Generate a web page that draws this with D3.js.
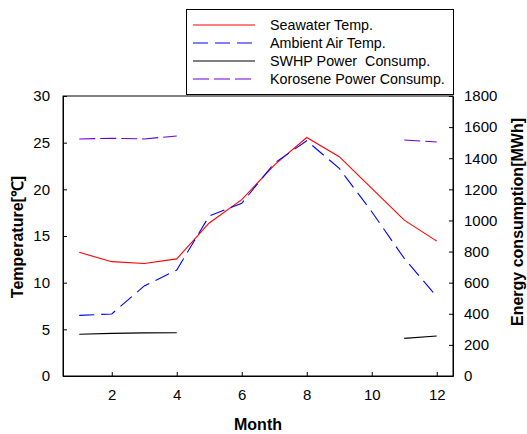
<!DOCTYPE html>
<html>
<head>
<meta charset="utf-8">
<script src="https://cdn.jsdelivr.net/npm/d3@7"></script>
<style>
  body { margin: 0; background: #fff; }
  text { font-family: "Liberation Sans", Arial, sans-serif; }
</style>
</head>
<body>
<svg id="chart" width="527" height="434"></svg>
<script>
var months = [1, 2, 3, 4, 5, 6, 7, 8, 9, 10, 11, 12];
var seawater = [13.25, 12.25, 12.05, 12.55, 16.4, 18.9, 22.6, 25.55, 23.5, 20.1, 16.7, 14.45];
var ambient = [6.5, 6.65, 9.65, 11.35, 17.15, 18.5, 22.8, 25.2, 22.25, 17.6, 12.6, 8.5];
var swhp = [268, 274, 277, 278, null, null, null, null, null, null, 242, 257];
var korosene = [1524, 1528, 1524, 1543, null, null, null, null, null, null, 1517, 1504];
var xTicks = [2, 4, 6, 8, 10, 12];
var tempTicks = [0, 5, 10, 15, 20, 25, 30];
var energyTicks = [0, 200, 400, 600, 800, 1000, 1200, 1400, 1600, 1800];

var chart = (function(){
    var _left = 63, _right = 453, _top = 96, _bottom = 376;
    var svg = d3.select("#chart");

    var x = d3.scaleLinear().domain([0.5, 12.5]).range([_left, _right]);
    var yT = d3.scaleLinear().domain([0, 30]).range([_bottom, _top]);
    var yE = d3.scaleLinear().domain([0, 1800]).range([_bottom, _top]);

    function _drawAxes(){
        svg.append("rect")
            .attr("x", _left).attr("y", _top)
            .attr("width", _right - _left).attr("height", _bottom - _top)
            .attr("fill", "none").attr("stroke", "#000").attr("stroke-width", 1);

        var ax = svg.append("g").attr("transform", "translate(0," + _bottom + ")")
            .call(d3.axisBottom(x).tickValues(xTicks).tickFormat(d3.format("d"))
                .tickSizeInner(-4).tickSizeOuter(0).tickPadding(13));
        var al = svg.append("g").attr("transform", "translate(" + _left + ",0)")
            .call(d3.axisLeft(yT).tickValues(tempTicks).tickFormat(d3.format("d"))
                .tickSizeInner(-4).tickSizeOuter(0).tickPadding(13));
        var ar = svg.append("g").attr("transform", "translate(" + _right + ",0)")
            .call(d3.axisRight(yE).tickValues(energyTicks).tickFormat(d3.format("d"))
                .tickSizeInner(-4).tickSizeOuter(0).tickPadding(11));

        [ax, al, ar].forEach(function(g){
            g.select(".domain").attr("stroke", "#000");
            g.selectAll(".tick line").attr("stroke", "#000");
            g.selectAll(".tick text").attr("font-size", 15).attr("fill", "#000")
                .style("font-family", "'Liberation Sans', Arial, sans-serif");
        });

        svg.append("text")
            .attr("x", (_left + _right) / 2).attr("y", 430)
            .attr("text-anchor", "middle").attr("font-size", 16).attr("font-weight", "bold")
            .text("Month");
        svg.append("text")
            .attr("transform", "translate(23,237) rotate(-90)")
            .attr("text-anchor", "middle").attr("font-size", 16).attr("font-weight", "bold")
            .text("Temperature[℃]");
        svg.append("text")
            .attr("transform", "translate(523,222) rotate(-90)")
            .attr("text-anchor", "middle").attr("font-size", 16).attr("font-weight", "bold")
            .text("Energy consumption[MWh]");
    }

    function _drawLines(){
        var lineT = d3.line()
            .defined(function(d){ return d[1] !== null; })
            .x(function(d){ return x(d[0]); })
            .y(function(d){ return yT(d[1]); });
        var lineE = d3.line()
            .defined(function(d){ return d[1] !== null; })
            .x(function(d){ return x(d[0]); })
            .y(function(d){ return yE(d[1]); });

        var series = [
            {data: seawater, line: lineT, color: "#ff0000", dash: null},
            {data: ambient, line: lineT, color: "#0000ff", dash: "15,7"},
            {data: swhp, line: lineE, color: "#000000", dash: null},
            {data: korosene, line: lineE, color: "#6a00d8", dash: "16,5"}
        ];
        series.forEach(function(s){
            svg.append("path")
                .datum(months.map(function(m, i){ return [m, s.data[i]]; }))
                .attr("d", s.line)
                .attr("fill", "none")
                .attr("stroke", s.color)
                .attr("stroke-width", 1.1)
                .attr("stroke-dasharray", s.dash);
        });
    }

    function _drawLegend(){
        var items = [
            {label: "Seawater Temp.", color: "#ff0000", dash: null},
            {label: "Ambient Air Temp.", color: "#0000ff", dash: "15,7"},
            {label: "SWHP Power  Consump.", color: "#000000", dash: null},
            {label: "Korosene Power Consump.", color: "#6a00d8", dash: "16,5"}
        ];
        svg.append("rect")
            .attr("x", 186.5).attr("y", 9.5).attr("width", 267).attr("height", 85)
            .attr("fill", "#fff").attr("stroke", "#000");
        var g = svg.selectAll(".legendItem")
            .data(items)
            .enter()
            .append("g")
            .attr("class", "legendItem")
            .attr("transform", function(d, i){ return "translate(0," + (25 + i * 18) + ")"; });
        g.append("line")
            .attr("x1", 193).attr("x2", 255).attr("y1", 0).attr("y2", 0)
            .attr("stroke", function(d){ return d.color; })
            .attr("stroke-width", 1.1)
            .attr("stroke-dasharray", function(d){ return d.dash; });
        g.append("text")
            .attr("x", 270).attr("y", 5)
            .attr("font-size", 14.3)
            .style("white-space", "pre")
            .attr("xml:space", "preserve")
            .text(function(d){ return d.label; });
    }

    return {
        drawAxes: _drawAxes,
        drawLines: _drawLines,
        drawLegend: _drawLegend
    };
})();

chart.drawAxes();
chart.drawLines();
chart.drawLegend();
</script>
</body>
</html>
